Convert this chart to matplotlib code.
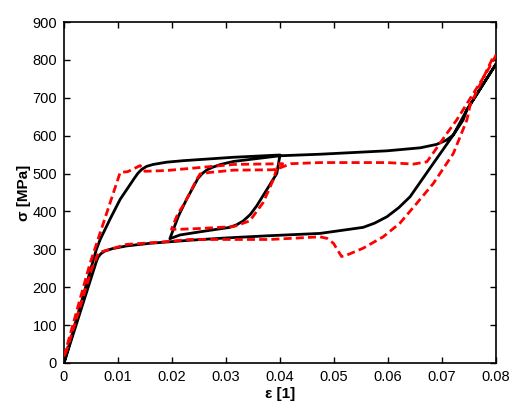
import matplotlib
matplotlib.use('Agg')
import matplotlib.pyplot as plt

# simulation (solid black): load to 4 %, partial unload, reload to 8 %, full unload
sim_strain = [0, 0.0060, 0.0067, 0.0085, 0.0104, 0.0130, 0.0137, 0.0144, 0.0153, 0.0165, 0.0190,
              0.0221, 0.0314, 0.0400,
              0.0394, 0.0381, 0.0357, 0.0345, 0.0332, 0.0320, 0.0307, 0.0260, 0.0215, 0.0196,
              0.0212, 0.0227, 0.0248, 0.0256, 0.0264, 0.0274, 0.0290, 0.0314, 0.0400, 0.0474,
              0.0598, 0.0660, 0.0690, 0.0708, 0.0721, 0.0739, 0.0746, 0.0800,
              0.0746, 0.0721, 0.0684, 0.0641, 0.0620, 0.0598, 0.0575, 0.0554, 0.0474, 0.0381,
              0.0300, 0.0233, 0.0160, 0.0116, 0.0090, 0.0075, 0.0068, 0.0063, 0.0060, 0]
sim_stress = [0, 300, 326, 379, 432, 487, 501, 511, 519, 524, 530,
              534, 543, 549,
              500, 470, 415, 392, 375, 365, 358, 348, 338, 328,
              388, 432, 487, 500, 509, 516, 524, 532, 547, 551,
              560, 568, 577, 588, 602, 641, 668, 789,
              668, 602, 527, 439, 410, 386, 369, 358, 342, 336,
              330, 324, 316, 309, 302, 295, 288, 279, 268, 0]

# experiment (dashed red)
exp_strain = [0, 0.0048, 0.0104, 0.0118, 0.0141, 0.0150, 0.0190, 0.0252, 0.0314, 0.0405,
              0.0394, 0.0388, 0.0369, 0.0344, 0.0314, 0.0252, 0.0215, 0.0199,
              0.0209, 0.0227, 0.0246, 0.0252, 0.0270, 0.0314, 0.0387, 0.0400, 0.0420,
              0.0474, 0.0536, 0.0598, 0.0647, 0.0672, 0.0690, 0.0709, 0.0727, 0.0783, 0.0800,
              0.0795, 0.0752, 0.0746, 0.0721, 0.0684, 0.0653, 0.0622, 0.0591, 0.0554,
              0.0524, 0.0514, 0.0499, 0.0487, 0.0474, 0.0381, 0.0233, 0.0178, 0.0116,
              0.0073, 0.0064, 0.0051, 0.0030, 0.0005, 0]
exp_stress = [17, 262, 503, 505, 521, 506, 508, 516, 524, 526,
              514, 485, 424, 375, 360, 355, 353, 353,
              388, 432, 485, 499, 503, 509, 510, 515, 526,
              529, 529, 529, 525, 531, 567, 606, 641, 768, 812,
              808, 680, 641, 553, 474, 421, 369, 333, 303,
              285, 281, 316, 329, 333, 326, 326, 319, 313,
              295, 291, 247, 149, 34, 17]

fig = plt.figure(figsize=(5.23, 4.18), dpi=100)
ax = fig.add_axes([64 / 523, 1 - 363 / 418, 432 / 523, 341 / 418])

ax.plot(sim_strain, sim_stress, color='black', linewidth=2.0, zorder=2)
ax.plot(exp_strain, exp_stress, color='red', linewidth=2.0, dashes=(2.9, 1.5), zorder=3)

ax.set_xlim(0, 0.08)
ax.set_ylim(0, 900)
ax.set_xticks([0, 0.01, 0.02, 0.03, 0.04, 0.05, 0.06, 0.07, 0.08])
ax.set_xticklabels(['0', '0.01', '0.02', '0.03', '0.04', '0.05', '0.06', '0.07', '0.08'])
ax.set_yticks(range(0, 901, 100))

font = 'Liberation Sans'
ax.tick_params(direction='in', top=True, right=True, length=4, width=1, labelsize=10.5, pad=5)
for lab in ax.get_xticklabels() + ax.get_yticklabels():
    lab.set_family(font)
for sp in ax.spines.values():
    sp.set_linewidth(1.2)

ax.set_xlabel('ε [1]', fontsize=11, fontweight='bold', family=font, labelpad=2)
ax.set_ylabel('σ [MPa]', fontsize=11, fontweight='bold', family=font, labelpad=1)

fig.savefig('out.png', dpi=100)
